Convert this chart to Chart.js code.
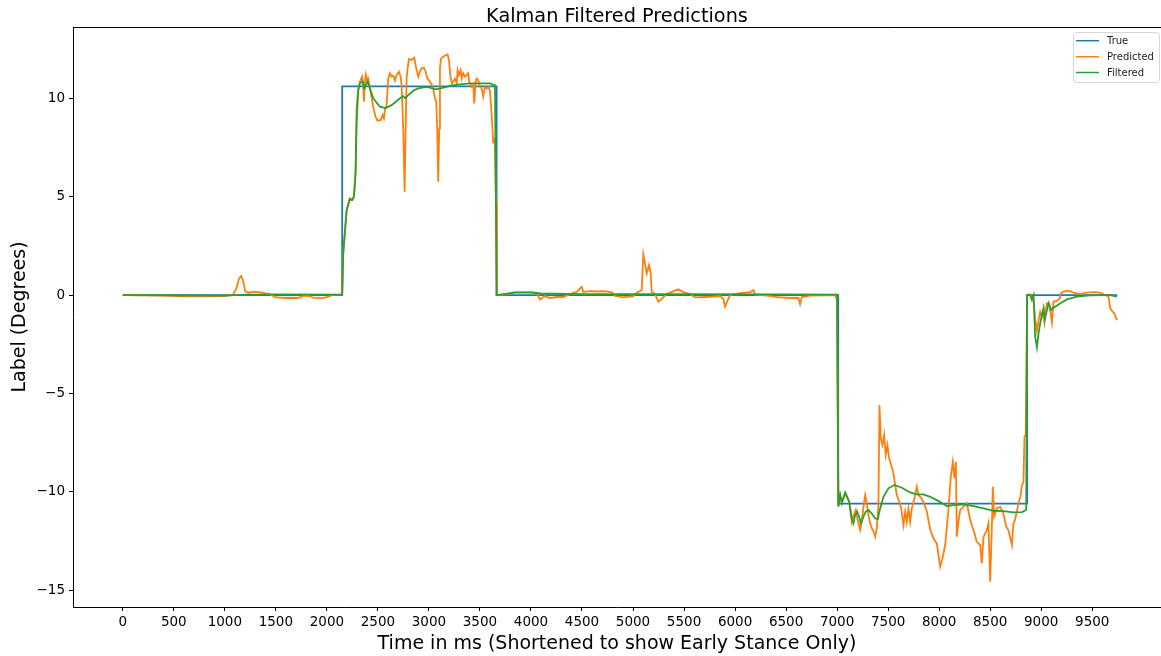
<!DOCTYPE html>
<html>
<head>
<meta charset="utf-8">
<script src="https://cdn.jsdelivr.net/npm/chart.js@4"></script>
<style>
html,body{margin:0;padding:0;background:#fff;}
canvas{display:block;}
</style>
</head>
<body>
<canvas id="c" width="1161" height="656"></canvas>
<script>
// ---- data (time in ms, label in degrees) ----
const seriesNames = ["True", "Predicted", "Filtered"];
const seriesColors = ["#1f77b4", "#ff7f0e", "#2ca02c"];

const trueT = [0, 2150, 2150, 3663, 3663, 7011, 7011, 8862, 8862, 9745];
const trueV = [0, 0, 10.6, 10.6, 0, 0, -10.6, -10.6, 0, 0];

const predT = [0,200,400,600,800,1000,1080,1110,1140,1160,1180,1200,1230,1280,1340,1400,1450,1500,1600,1700,1740,1770,1830,1870,1950,2000,2050,2140,
2150,2160,2193,2225,2248,2265,2281,2291,2305,2323,2346,2356,2363,2373,2382,2395,2405,2428,2454,2477,2497,2529,2546,2559,2569,2585,2601,2618,2634,2650,2667,2683,2706,2723,2732,2748,2762,2772,2781,2791,2804,2830,2856,2879,2895,2912,2928,2951,2968,2983,3000,3020,3042,3059,3072,3081,3091,3101,3108,3118,3140,3164,3183,3196,3209,3223,3238,3255,3272,3281,3294,3311,3321,3336,3353,3370,3385,3395,3419,3434,3444,3458,3468,3483,3500,3517,3532,3549,3566,3581,3598,3615,3630,3640,3647,3654,3658,3666,
3676,3760,3824,3900,4020,4060,4088,4137,4186,4255,4314,4382,4451,4497,4513,4578,4650,4706,4790,4807,4824,4902,5003,5036,5085,5101,5118,5134,5157,5173,5183,5216,5248,5281,5330,5444,5493,5559,5608,5723,5853,5885,5902,5925,5951,6049,6147,6180,6196,6311,6409,6540,6621,6637,6654,6735,6866,6980,6997,
7013,7030,7046,7079,7118,7144,7160,7183,7196,7226,7242,7258,7275,7291,7307,7324,7340,7356,7373,7389,7405,7415,7428,7444,7461,7477,7493,7510,7530,7552,7569,7585,7608,7628,7650,7667,7683,7699,7716,7732,7758,7781,7797,7814,7846,7879,7912,7944,7977,8010,8036,8059,8091,8114,8134,8150,8164,8173,8189,8206,8238,8271,8304,8336,8369,8402,8418,8434,8467,8483,8500,8516,8526,8539,8565,8598,8630,8657,8679,8713,8728,8745,8777,8794,8811,8826,8836,8848,8862,
8880,8908,8925,8941,8958,8974,8990,9007,9023,9033,9056,9080,9105,9121,9154,9180,9193,9219,9268,9317,9383,9448,9513,9579,9627,9660,9677,9693,9716,9742];
const predV = [0,-0.02,-0.03,-0.06,-0.07,-0.05,0.02,0.3,0.85,0.97,0.7,0.2,0.12,0.17,0.15,0.08,0.02,-0.12,-0.15,-0.15,-0.12,-0.03,-0.05,-0.14,-0.16,-0.1,0,0.02,
0.1,2.1,4.3,4.9,4.83,5.0,6.2,9.5,10.33,10.84,11.1,10.67,9.82,10.84,11.2,10.9,11.0,10.33,9.57,9.06,8.86,8.9,9.15,8.98,9.4,9.65,11.0,11.27,11.1,11.14,10.9,11.18,11.35,11.1,10.67,8.47,5.25,8.47,11.0,11.5,12.0,11.95,12.06,11.43,11.1,11.35,11.52,11.55,11.35,11.0,10.92,10.76,10.5,10.0,9.82,8.47,5.76,8.47,11.52,12.0,12.11,12.2,12.23,11.94,11.18,10.76,10.84,11.0,10.76,11.43,11.18,11.43,11.0,11.27,11.1,11.18,11.27,10.84,10.58,10.67,9.74,10.84,11.0,10.92,10.58,10.5,10.08,10.58,10.5,10.58,10.4,9.15,7.79,7.88,7.62,5.42,4.7,0,
0,0.03,0.14,0.12,0.14,0.05,-0.22,-0.05,-0.15,-0.1,-0.1,0.05,0.17,0.42,0.15,0.2,0.18,0.2,0.15,0.05,-0.05,-0.12,-0.05,0.12,0.25,2.08,1.6,1.1,1.52,1.1,0.17,0.05,-0.34,-0.2,0.05,0.29,0.15,0.05,-0.12,-0.1,-0.05,-0.2,-0.59,-0.3,0,0.1,0.15,0.25,0.02,-0.03,-0.1,-0.15,-0.15,-0.46,-0.1,-0.03,-0.02,-0.02,-0.2,
-10.7,-10.2,-10.5,-10.1,-10.5,-11.52,-11.2,-10.92,-11.3,-11.94,-11.5,-10.76,-10.16,-10.6,-11.18,-11.6,-11.86,-12.0,-12.28,-11.86,-10.67,-5.59,-7.28,-7.62,-7.11,-8.13,-7.62,-8.3,-8.64,-9.06,-9.65,-10.16,-10.5,-10.84,-11.69,-11.0,-11.52,-10.84,-11.52,-10.84,-10.33,-9.74,-10.16,-10.25,-10.5,-11.0,-11.9,-12.37,-12.62,-13.8,-13.3,-12.7,-10.92,-9.23,-8.47,-9.31,-8.47,-12.28,-11.52,-10.92,-10.75,-10.58,-11.43,-11.94,-12.54,-12.7,-13.63,-12.3,-11.94,-11.6,-14.57,-11.9,-9.74,-11.26,-10.84,-10.76,-11.1,-11.77,-11.94,-12.7,-11.6,-11.4,-10.58,-10.3,-9.7,-9.5,-7.2,-7.1,0,
0.05,-0.1,-0.3,-1.2,-1.8,-1.3,-0.85,-1.1,-0.68,-1.35,-0.42,-0.45,-1.4,-0.34,-0.3,-0.17,0.08,0.17,0.22,0.12,0.05,0.12,0.15,0.12,0,-0.08,-0.68,-0.8,-0.93,-1.27];

const filtT = [0,500,1000,1200,1500,2140,
2150,2160,2193,2225,2248,2265,2281,2291,2307,2323,2350,2364,2372,2399,2454,2520,2575,2634,2716,2748,2765,2846,2895,2977,3075,3140,3238,3402,3598,3647,3664,
3672,3700,3800,3850,4000,4100,4500,5500,6500,7000,
7012,7030,7046,7063,7079,7095,7118,7144,7160,7177,7196,7216,7233,7258,7281,7307,7340,7373,7399,7422,7454,7503,7562,7634,7716,7781,7846,7912,7977,8075,8141,8238,8336,8434,8532,8630,8728,8811,8853,
8862,8890,8908,8925,8941,8958,8974,8990,9007,9023,9033,9049,9072,9095,9115,9137,9187,9252,9350,9481,9611,9677,9742];
const filtV = [0,-0.02,-0.03,0.02,0.03,0.02,
0.05,2.1,4.3,4.9,4.83,5.0,6.2,8.7,10.4,10.76,10.85,10.5,10.6,10.85,10.0,9.57,9.5,9.65,10.0,10.1,10.0,10.38,10.5,10.58,10.45,10.54,10.67,10.76,10.76,10.67,0,
0,0.02,0.1,0.14,0.14,0.08,0.05,0.05,0.03,0.02,
-10.76,-10.16,-10.58,-10.3,-10.03,-10.2,-10.5,-11.35,-11.6,-11.18,-11.0,-11.26,-11.6,-11.26,-11.0,-10.92,-11.1,-11.35,-11.38,-10.84,-10.25,-9.82,-9.65,-9.79,-10.03,-10.13,-10.13,-10.25,-10.42,-10.72,-10.67,-10.64,-10.72,-10.84,-10.96,-10.98,-11.04,-11.03,-10.92,
0,0,-0.25,0,-2.12,-2.66,-1.95,-1.44,-1.0,-0.68,-1.27,-0.93,-0.42,-0.76,-0.65,-0.59,-0.42,-0.22,-0.08,-0.02,0,0,-0.08];

const xTicks = [0,500,1000,1500,2000,2500,3000,3500,4000,4500,5000,5500,6000,6500,7000,7500,8000,8500,9000,9500];
const yTicks = [-15,-10,-5,0,5,10];

const titleText = "Kalman Filtered Predictions";
const xTitle = "Time in ms (Shortened to show Early Stance Only)";
const yTitle = "Label (Degrees)";

// ---- build ----
function pts(t, v){ return t.map((x,i)=>({x:x, y:v[i]})); }
const FONT = "'DejaVu Sans', sans-serif";

const bgPlugin = {
  id:'bg',
  beforeDraw(chart){ const c=chart.ctx; c.save(); c.fillStyle='#fff'; c.fillRect(0,0,chart.width,chart.height); c.restore(); }
};
const legendPlugin = {
  id:'mplLegend',
  afterDraw(chart){
    const c = chart.ctx;
    c.save();
    const x0=1073.5, y0=32.5, w=86, h=50, r=3;
    c.beginPath();
    c.moveTo(x0+r,y0); c.lineTo(x0+w-r,y0); c.arcTo(x0+w,y0,x0+w,y0+r,r);
    c.lineTo(x0+w,y0+h-r); c.arcTo(x0+w,y0+h,x0+w-r,y0+h,r);
    c.lineTo(x0+r,y0+h); c.arcTo(x0,y0+h,x0,y0+h-r,r);
    c.lineTo(x0,y0+r); c.arcTo(x0,y0,x0+r,y0,r);
    c.closePath();
    c.fillStyle='rgba(255,255,255,0.8)'; c.fill();
    c.strokeStyle='#d6d6d6'; c.lineWidth=1; c.stroke();
    c.font = "10px "+FONT; c.textBaseline='middle'; c.textAlign='left';
    const rows=[40.7,56.7,72.5];
    chart.data.datasets.forEach((ds,i)=>{
      c.strokeStyle=ds.borderColor; c.lineWidth=1.5;
      c.beginPath(); c.moveTo(1076,rows[i]); c.lineTo(1099,rows[i]); c.stroke();
      c.fillStyle='#222'; c.fillText(ds.label,1107,rows[i]+0.5);
    });
    c.restore();
  }
};

new Chart(document.getElementById('c'), {
  type:'line',
  data:{
    datasets:[
      {label:seriesNames[0], data:pts(trueT,trueV), borderColor:seriesColors[0], borderWidth:1.8, pointRadius:0, tension:0, order:3},
      {label:seriesNames[1], data:pts(predT,predV), borderColor:seriesColors[1], borderWidth:1.8, pointRadius:0, tension:0, order:2},
      {label:seriesNames[2], data:pts(filtT,filtV), borderColor:seriesColors[2], borderWidth:1.8, pointRadius:0, tension:0, order:1}
    ]
  },
  options:{
    responsive:false, animation:false, devicePixelRatio:1,
    layout:{padding:0},
    plugins:{legend:{display:false}, tooltip:{enabled:false}, title:{display:false}},
    scales:{
      x:{
        type:'linear', position:'bottom', min:-488, max:10174,
        afterBuildTicks(s){ s.ticks = xTicks.map(v=>({value:v})); },
        afterFit(s){ s.height = 49; },
        ticks:{autoSkip:false, maxRotation:0, padding:3, color:'#000', font:{family:FONT, size:13.5}, callback:v=>String(v)},
        grid:{display:true, drawOnChartArea:false, drawTicks:true, tickLength:4, color:'#000', lineWidth:1},
        border:{display:true, color:'#000', width:1},
        title:{display:true, text:xTitle, color:'#000', font:{family:FONT, size:19}, padding:{top:0,bottom:1}}
      },
      xTop:{
        type:'linear', position:'top', min:0, max:1,
        afterFit(s){ s.height = 27; },
        ticks:{display:false},
        grid:{display:false},
        border:{display:true, color:'#000', width:1},
        title:{display:true, text:titleText, color:'#000', font:{family:FONT, size:19.3}, padding:{top:5.5,bottom:0}}
      },
      y:{
        type:'linear', position:'left', min:-15.85, max:13.62,
        afterBuildTicks(s){ s.ticks = yTicks.map(v=>({value:v})); },
        afterFit(s){ s.width = 73; },
        ticks:{padding:4, color:'#000', font:{family:FONT, size:13.5}, callback:v=> v<0 ? '\u2212'+Math.abs(v) : String(v)},
        grid:{display:true, drawOnChartArea:false, drawTicks:true, tickLength:4, color:'#000', lineWidth:1},
        border:{display:true, color:'#000', width:1},
        title:{display:true, text:yTitle, color:'#000', font:{family:FONT, size:19}, padding:{top:9,bottom:0}}
      }
    }
  },
  plugins:[bgPlugin, legendPlugin]
});
</script>
</body>
</html>
